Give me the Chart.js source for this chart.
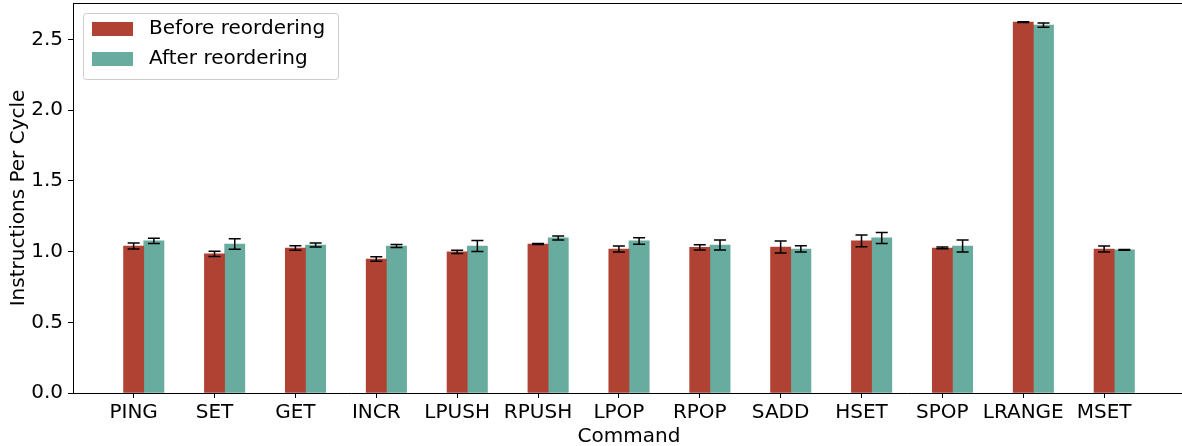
<!DOCTYPE html>
<html>
<head>
<meta charset="utf-8">
<script src="https://cdn.jsdelivr.net/npm/chart.js@4"></script>
<style>
html,body{margin:0;padding:0;background:#fff;overflow:hidden}
#wrap{width:1186px;height:446px}
</style>
</head>
<body>
<div id="wrap"><canvas id="ipc-chart" width="1186" height="446"></canvas></div>
<script>
/* ===== DATA ===== */
const commands=['PING','SET','GET','INCR','LPUSH','RPUSH','LPOP','RPOP','SADD','HSET','SPOP','LRANGE','MSET'];
const beforeIPC=[1.040,0.984,1.026,0.948,0.998,1.054,1.019,1.030,1.033,1.076,1.026,2.624,1.019];
const beforeErr=[0.022,0.018,0.016,0.016,0.012,0.004,0.021,0.018,0.042,0.041,0.006,0.003,0.021];
const afterIPC=[1.076,1.054,1.047,1.040,1.040,1.097,1.076,1.047,1.019,1.097,1.040,2.603,1.012];
const afterErr=[0.019,0.037,0.014,0.010,0.039,0.014,0.023,0.035,0.022,0.039,0.043,0.015,0.003];
const yTicks=[0,0.5,1.0,1.5,2.0,2.5];

const RED='#af4233',TEAL='#67ac9f';
const FONT='"DejaVu Sans", sans-serif';
const BAR_W=0.25; // bar width in category units

// error bars drawn through the y scale
const errorBars={
  id:'errorBars',
  afterDatasetsDraw(chart){
    const ctx=chart.ctx,y=chart.scales.y;
    chart.data.datasets.forEach((ds,di)=>{
      const meta=chart.getDatasetMeta(di);
      meta.data.forEach((el,i)=>{
        const v=ds.data[i].y,e=ds.err[i];
        const yt=y.getPixelForValue(v+e),yb=y.getPixelForValue(v-e);
        ctx.save();
        ctx.strokeStyle='#000';ctx.lineWidth=1.5;
        ctx.beginPath();
        ctx.moveTo(el.x,yt);ctx.lineTo(el.x,yb);
        ctx.moveTo(el.x-6,yt);ctx.lineTo(el.x+6,yt);
        ctx.moveTo(el.x-6,yb);ctx.lineTo(el.x+6,yb);
        ctx.stroke();
        ctx.restore();
      });
    });
  }
};

// top spine + legend box in upper left
const frameLegend={
  id:'frameLegend',
  afterDraw(chart){
    const ctx=chart.ctx,a=chart.chartArea;
    ctx.save();
    ctx.strokeStyle='#000';ctx.lineWidth=1;
    ctx.beginPath();ctx.moveTo(a.left,a.top+0.5);ctx.lineTo(a.right,a.top+0.5);ctx.stroke();
    // legend
    const lx=a.left+10,ly=a.top+10,lw=255,lh=66;
    ctx.fillStyle='rgba(255,255,255,0.8)';
    ctx.strokeStyle='#cccccc';
    ctx.beginPath();
    ctx.roundRect(lx+0.5,ly+0.5,lw,lh,3);
    ctx.fill();ctx.stroke();
    ctx.font='20px '+FONT;
    ctx.textBaseline='middle';
    chart.data.datasets.forEach((ds,i)=>{
      const ry=ly+9+i*30;
      ctx.fillStyle=ds.backgroundColor;
      ctx.fillRect(lx+9,ry,41,14);
      ctx.fillStyle='#000';
      ctx.fillText(ds.label,lx+66,ry+7);
    });
    ctx.restore();
  }
};

const ctx=document.getElementById('ipc-chart').getContext('2d');
new Chart(ctx,{
  type:'bar',
  data:{
    datasets:[{
      label:'Before reordering',
      data:beforeIPC.map((v,i)=>({x:i,y:v})),
      err:beforeErr,
      backgroundColor:RED,borderWidth:0
    },{
      label:'After reordering',
      data:afterIPC.map((v,i)=>({x:i+BAR_W,y:v})),
      err:afterErr,
      backgroundColor:TEAL,borderWidth:0
    }]
  },
  options:{
    responsive:false,animation:false,
    layout:{padding:{top:3,right:1,left:0,bottom:0}},
    datasets:{bar:{grouped:false,barThickness:20.2}},
    plugins:{legend:{display:false},tooltip:{enabled:false}},
    scales:{
      x:{
        type:'linear',min:-0.75,max:13.0,offset:false,
        afterBuildTicks:s=>{s.ticks=commands.map((c,i)=>({value:i}));},
        afterFit:s=>{s.height=53;s.paddingLeft=0;s.paddingRight=0;},
        ticks:{color:'#000',font:{family:FONT,size:20},padding:3,maxRotation:0,autoSkip:false,
          callback:v=>commands[Math.round(v)]},
        grid:{display:true,drawOnChartArea:false,drawTicks:true,tickLength:5,color:'#000',offset:false},
        border:{display:true,color:'#000',width:1},
        title:{display:true,text:'Command',color:'#000',font:{family:FONT,size:20},padding:{top:0,bottom:-3}}
      },
      y:{
        min:0,max:2.759,
        afterBuildTicks:s=>{s.ticks=yTicks.map(v=>({value:v}));},
        afterFit:s=>{s.width=73;s.paddingTop=0;s.paddingBottom=0;},
        ticks:{color:'#000',font:{family:FONT,size:20},padding:5,callback:v=>v.toFixed(1)},
        grid:{display:true,drawOnChartArea:false,drawTicks:true,tickLength:5,color:'#000'},
        border:{display:true,color:'#000',width:1},
        title:{display:true,text:'Instructions Per Cycle',color:'#000',font:{family:FONT,size:20},padding:{top:7,bottom:0}}
      }
    }
  },
  plugins:[errorBars,frameLegend]
});
</script>
</body>
</html>
